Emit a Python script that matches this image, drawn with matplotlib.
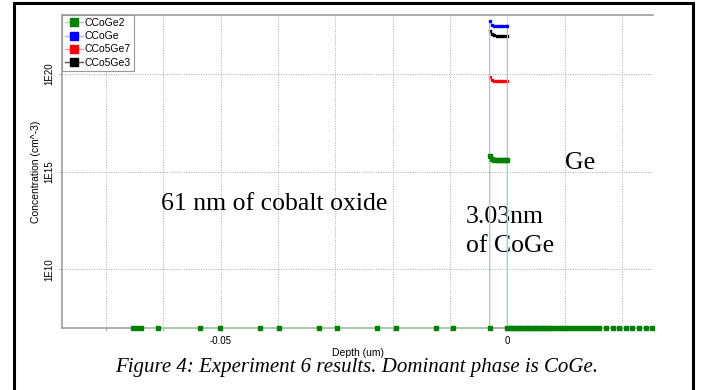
import matplotlib
matplotlib.use("Agg")
import matplotlib.pyplot as plt
from matplotlib.lines import Line2D
from matplotlib.patches import Rectangle

plt.rcParams["font.family"] = ["Liberation Sans", "DejaVu Sans"]

# depth (um) of the points inside the CoGe layer
layer_depth = [-0.0031, -0.0027, -0.0023, -0.0019, -0.0015, -0.0011, -0.0007, -0.0003, 0.0]

# concentrations (cm^-3) in the layer
c_coge2 = [5.9e15, 4.4e15, 3.9e15, 3.8e15, 3.7e15, 3.8e15, 3.8e15, 3.8e15, 3.9e15]
c_coge = [4.9e22, 3.2e22, 2.75e22, 2.7e22, 2.7e22, 2.6e22, 2.6e22, 2.6e22, 2.7e22]
c_co5ge7 = [6.6e19, 4.8e19, 4.2e19, 4.0e19, 4.1e19, 4.1e19, 4.1e19, 4.1e19, 4.2e19]
c_co5ge3 = [1.5e22, 1.05e22, 9.1e21, 8.7e21, 8.5e21, 8.5e21, 8.5e21, 8.5e21, 8.7e21]

# CCoGe2 points sitting on the floor of the plot
floor = 1e7
oxide_depth = [-0.0653, -0.0646, -0.0639, -0.0609, -0.0537, -0.0502, -0.0431,
               -0.0399, -0.0329, -0.0297, -0.0228, -0.0195, -0.0125, -0.0095,
               -0.0031]
ge_depth = [0.0, 0.0004, 0.0008, 0.0012, 0.0016, 0.002, 0.0024, 0.0028,
            0.0032, 0.0036, 0.004, 0.0044, 0.0048, 0.0052, 0.0056, 0.006,
            0.0064, 0.0068, 0.0072, 0.0076, 0.0082, 0.0088, 0.0094, 0.01,
            0.0106, 0.0112, 0.0118, 0.0124, 0.013, 0.0136, 0.0142, 0.0148,
            0.0154, 0.016, 0.0172, 0.0184, 0.0195, 0.0207, 0.0218, 0.023,
            0.0241, 0.0252]

names = ["CCoGe2", "CCoGe", "CCo5Ge7", "CCo5Ge3"]
colors = ["#008000", "#0000ff", "#ff0000", "#000000"]
light = ["#a8d8a8", "#b4b4ff", "#ff9999", "#555555"]

fig = plt.figure(figsize=(7.07, 3.90), dpi=100)
ax = fig.add_axes([62 / 707, 1 - 328 / 390, (653 - 62) / 707, (328 - 15) / 390])

# black and red sit under the blue drop lines, so only their layer part shows
ax.plot(layer_depth, c_co5ge3, color=light[3], lw=0.9, marker="s", ms=2,
        mfc=colors[3], mec=colors[3], zorder=3)
ax.plot(layer_depth, c_co5ge7, color=light[2], lw=0.9, marker="s", ms=2,
        mfc=colors[2], mec=colors[2], zorder=4)

bx = [layer_depth[0]] + layer_depth + [0.0]
by = [floor] + c_coge + [floor]
ax.plot(bx, by, color=light[1], lw=0.9, marker="s", ms=2,
        mfc=colors[1], mec=colors[1], zorder=5, clip_on=False)

gx = oxide_depth + layer_depth + ge_depth
gy = [floor] * len(oxide_depth) + c_coge2 + [floor] * len(ge_depth)
ax.plot(gx, gy, color=light[0], lw=0.9, marker="s", ms=2.2,
        mfc=colors[0], mec=colors[0], zorder=7, clip_on=False)

ax.set_yscale("log")
ax.set_xlim(-0.0777, 0.0254)
ax.set_ylim(1e7, 1e23)
ax.minorticks_off()

xt = [-0.07, -0.06, -0.05, -0.04, -0.03, -0.02, -0.01, 0.0, 0.01, 0.02]
ax.set_xticks(xt, ["", "", "-0.05", "", "", "", "", "0", "", ""])
ax.set_yticks([1e10, 1e15, 1e20], ["1E10", "1E15", "1E20"])
for lab in ax.get_yticklabels():
    lab.set_rotation(90)
    lab.set_va("center")
ax.tick_params(axis="both", labelsize=7, length=2.5, width=0.6,
               color="#999999")
ax.tick_params(axis="x", pad=3.5)
ax.tick_params(axis="y", pad=3)
ax.grid(True, ls=(0, (1, 1.5)), color="#aaaaaa", lw=0.7)

for s in ["left", "bottom", "top"]:
    ax.spines[s].set_color("#a0a0a0")
    ax.spines[s].set_linewidth(1.2)
ax.spines["right"].set_visible(False)

ax.set_xlabel("Depth (um)", fontsize=7.5, labelpad=1)
ax.set_ylabel("Concentration (cm^-3)", fontsize=7.5, labelpad=2.5)

handles = [Line2D([], [], color=light[i], lw=1, marker="s", ms=5.5,
                  mfc=colors[i], mec=colors[i]) for i in range(4)]
leg = ax.legend(handles, names, loc="upper left", bbox_to_anchor=(0, 1),
                borderaxespad=0, fancybox=False, edgecolor="#999999",
                framealpha=1, fontsize=7.5, handlelength=1.7,
                handletextpad=0.2, labelspacing=0.3, borderpad=0.3)
leg.get_frame().set_linewidth(0.8)
leg.set_zorder(10)

serif = "Liberation Serif"
ax.text(-0.0604, 1.1e13, "61 nm of cobalt oxide", family=serif, fontsize=18.5,
        va="baseline", ha="left")
ax.text(-0.00724, 2.2e12, "3.03nm", family=serif, fontsize=18.5,
        va="baseline", ha="left")
ax.text(-0.00724, 7.4e10, "of CoGe", family=serif, fontsize=18.5,
        va="baseline", ha="left")
ax.text(0.01003, 1.4e15, "Ge", family=serif, fontsize=18.5,
        va="baseline", ha="left")

fig.text(356.5 / 707, 1 - 372 / 390,
         "Figure 4: Experiment 6 results. Dominant phase is CoGe.",
         family=serif, style="italic", fontsize=15, ha="center",
         va="baseline")

fig.patches.append(Rectangle((13.5 / 707, -0.05), (692.5 - 13.5) / 707,
                             1.05 - 2.5 / 390, transform=fig.transFigure,
                             fill=False, ec="black", lw=2.2, clip_on=False))

fig.savefig("out.png", dpi=100)
